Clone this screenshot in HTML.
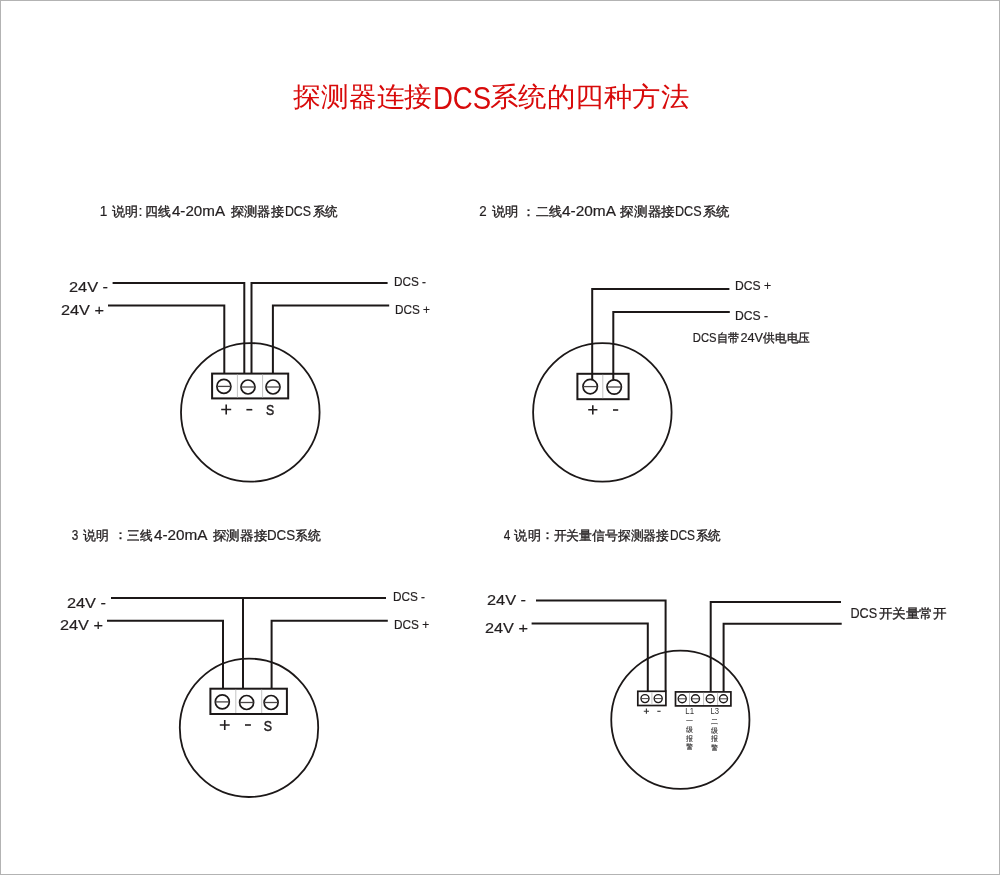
<!DOCTYPE html>
<html><head><meta charset="utf-8">
<style>
html,body{margin:0;padding:0;background:#fff;}
svg{display:block;will-change:transform;}
text{font-family:"Liberation Sans",sans-serif;fill:#231f20;}
.w{fill:none;stroke:#1c1818;stroke-width:2;stroke-linejoin:miter;stroke-linecap:butt;}
.c{fill:none;stroke:#1c1818;stroke-width:1.8;}
.bx{fill:#fff;stroke:#1c1818;stroke-width:2;}
.dv{stroke:#c4c4c4;stroke-width:1;}
.sc{fill:#fff;stroke:#1c1818;stroke-width:1.7;}
.pm{fill:none;stroke:#231f20;stroke-width:1.6;}
.sl{stroke:#4a4646;stroke-width:1.3;}
</style></head>
<body>
<svg width="1000" height="875" viewBox="0 0 1000 875">

<rect x="0.5" y="0.5" width="999" height="874" fill="#fff" stroke="#b3b3b3" stroke-width="1"/>
<circle class="c" cx="250.3" cy="412.35" r="69.3"/>
<path class="w" d="M112.6,283 H244.3 V373"/>
<path class="w" d="M387.6,283 H251.5 V373"/>
<path class="w" d="M108,305.6 H224.3 V373"/>
<path class="w" d="M389.2,305.6 H272.9 V373"/>
<rect class="bx" x="212.1" y="373.6" width="76.1" height="24.8"/>
<line class="dv" x1="237.4" y1="374.6" x2="237.4" y2="397.4"/>
<line class="dv" x1="262.6" y1="374.6" x2="262.6" y2="397.4"/>
<circle class="sc" cx="223.9" cy="386.4" r="7"/><line class="sl" x1="216.9" y1="386.4" x2="230.9" y2="386.4"/>
<circle class="sc" cx="248" cy="387" r="7"/><line class="sl" x1="241" y1="387" x2="255" y2="387"/>
<circle class="sc" cx="273" cy="387" r="7"/><line class="sl" x1="266" y1="387" x2="280" y2="387"/>
<path class="pm" d="M221.2,409.5 H231.2 M226.2,404.6 V414.5"/>
<path class="pm" d="M246.4,409.7 H252.3"/>
<circle class="c" cx="602.35" cy="412.35" r="69.25"/>
<rect class="bx" x="577.4" y="373.8" width="51.2" height="25.4"/>
<line class="dv" x1="602.8" y1="374.8" x2="602.8" y2="398.2"/>
<circle class="sc" cx="590.2" cy="386.6" r="7.2"/><line class="sl" x1="583" y1="386.6" x2="597.4" y2="386.6"/>
<circle class="sc" cx="614.2" cy="387" r="7.2"/><line class="sl" x1="607" y1="387" x2="621.4" y2="387"/>
<path class="w" d="M729.4,289 H592.2 V379.4"/>
<path class="w" d="M729.8,312 H613.3 V379.8"/>
<path class="pm" d="M588.2,409.8 H597.4 M592.8,405.2 V414.4"/>
<path class="pm" d="M613,410 H618.2"/>
<circle class="c" cx="249" cy="727.8" r="69.2"/>
<path class="w" d="M111,598 H386"/>
<path class="w" d="M243,598 V689"/>
<path class="w" d="M107,620.8 H223 V689"/>
<path class="w" d="M387.8,620.8 H271.6 V689"/>
<rect class="bx" x="210.4" y="688.7" width="76.5" height="25.3"/>
<line class="dv" x1="235.8" y1="689.7" x2="235.8" y2="713"/>
<line class="dv" x1="261.7" y1="689.7" x2="261.7" y2="713"/>
<circle class="sc" cx="222.3" cy="701.9" r="7"/><line class="sl" x1="215.3" y1="701.9" x2="229.3" y2="701.9"/>
<circle class="sc" cx="246.6" cy="702.5" r="7"/><line class="sl" x1="239.6" y1="702.5" x2="253.6" y2="702.5"/>
<circle class="sc" cx="271.1" cy="702.5" r="7"/><line class="sl" x1="264.1" y1="702.5" x2="278.1" y2="702.5"/>
<path class="pm" d="M219.8,725 H229.7 M224.75,720 V730"/>
<path class="pm" d="M245,725 H250.9"/>
<circle class="c" cx="680.35" cy="719.75" r="69.1"/>
<path class="w" d="M536,600.6 H665.6 V691.3"/>
<path class="w" d="M531.6,623.5 H647.8 V691.3"/>
<path class="w" d="M841,602 H710.7 V691.9"/>
<path class="w" d="M841.7,623.7 H723.6 V691.9"/>
<rect class="bx" style="stroke-width:1.7" x="637.8" y="691.3" width="28.1" height="14.2"/>
<line class="dv" x1="651.9" y1="692.2" x2="651.9" y2="704.6"/>
<circle class="sc" style="stroke-width:1.4" cx="645" cy="698.6" r="4"/><line class="sl" style="stroke-width:1" x1="641" y1="698.6" x2="649" y2="698.6"/>
<circle class="sc" style="stroke-width:1.4" cx="658.2" cy="698.6" r="4"/><line class="sl" style="stroke-width:1" x1="654.2" y1="698.6" x2="662.2" y2="698.6"/>
<rect class="bx" style="stroke-width:1.7" x="675.5" y="691.9" width="55.4" height="14"/>
<line class="dv" x1="689.5" y1="692.8" x2="689.5" y2="705"/>
<line class="dv" x1="703.6" y1="692.8" x2="703.6" y2="705"/>
<line class="dv" x1="717.6" y1="692.8" x2="717.6" y2="705"/>
<circle class="sc" style="stroke-width:1.4" cx="682.2" cy="698.8" r="4"/><line class="sl" style="stroke-width:1" x1="678.2" y1="698.8" x2="686.2" y2="698.8"/>
<circle class="sc" style="stroke-width:1.4" cx="695.5" cy="698.8" r="4"/><line class="sl" style="stroke-width:1" x1="691.5" y1="698.8" x2="699.5" y2="698.8"/>
<circle class="sc" style="stroke-width:1.4" cx="710.2" cy="698.8" r="4"/><line class="sl" style="stroke-width:1" x1="706.2" y1="698.8" x2="714.2" y2="698.8"/>
<circle class="sc" style="stroke-width:1.4" cx="723.5" cy="698.8" r="4"/><line class="sl" style="stroke-width:1" x1="719.5" y1="698.8" x2="727.5" y2="698.8"/>
<path class="pm" style="stroke-width:1.1;stroke:#333" d="M643.8,711.2 H649 M646.4,708.5 V713.8"/>
<path class="pm" style="stroke-width:1.1;stroke:#333" d="M657.3,711.3 H660.6"/>

<text x="293.49" y="105.80" font-size="27.00" style="fill:#d80a0a;" textLength="138.52" lengthAdjust="spacingAndGlyphs">探测器连接</text>
<text x="432.88" y="108.65" font-size="30.90" style="fill:#d80a0a;" textLength="58.17" lengthAdjust="spacingAndGlyphs">DCS</text>
<text x="489.98" y="106.30" font-size="27.00" style="fill:#d80a0a;" textLength="199.05" lengthAdjust="spacingAndGlyphs">系统的四种方法</text>
<text x="99.82" y="215.80" font-size="14.20" style="fill:#231f20;stroke:#231f20;stroke-width:0.2;" textLength="7.62" lengthAdjust="spacingAndGlyphs">1</text>
<text x="111.95" y="215.60" font-size="13.00" style="fill:#231f20;stroke:#231f20;stroke-width:0.35;" textLength="26.15" lengthAdjust="spacingAndGlyphs">说明</text>
<text x="138.50" y="216.05" font-size="14.20" style="fill:#231f20;stroke:#231f20;stroke-width:0.2;">:</text>
<text x="145.41" y="215.60" font-size="13.00" style="fill:#231f20;stroke:#231f20;stroke-width:0.35;" textLength="25.67" lengthAdjust="spacingAndGlyphs">四线</text>
<text x="171.95" y="215.70" font-size="14.20" style="fill:#231f20;stroke:#231f20;stroke-width:0.2;" textLength="53.08" lengthAdjust="spacingAndGlyphs">4-20mA</text>
<text x="230.98" y="215.80" font-size="13.00" style="fill:#231f20;stroke:#231f20;stroke-width:0.35;" textLength="53.02" lengthAdjust="spacingAndGlyphs">探测器接</text>
<text x="284.94" y="215.60" font-size="14.20" style="fill:#231f20;stroke:#231f20;stroke-width:0.2;" textLength="26.11" lengthAdjust="spacingAndGlyphs">DCS</text>
<text x="312.95" y="215.80" font-size="13.00" style="fill:#231f20;stroke:#231f20;stroke-width:0.35;" textLength="25.05" lengthAdjust="spacingAndGlyphs">系统</text>
<text x="479.23" y="215.85" font-size="14.20" style="fill:#231f20;stroke:#231f20;stroke-width:0.2;" textLength="7.41" lengthAdjust="spacingAndGlyphs">2</text>
<text x="491.96" y="215.80" font-size="13.00" style="fill:#231f20;stroke:#231f20;stroke-width:0.35;" textLength="26.71" lengthAdjust="spacingAndGlyphs">说明</text>
<text x="521.50" y="215.55" font-size="13.00" style="fill:#231f20;stroke:#231f20;stroke-width:0.35;">：</text>
<text x="536.00" y="215.80" font-size="13.00" style="fill:#231f20;stroke:#231f20;stroke-width:0.35;" textLength="26.00" lengthAdjust="spacingAndGlyphs">二线</text>
<text x="561.99" y="215.75" font-size="14.20" style="fill:#231f20;stroke:#231f20;stroke-width:0.2;" textLength="54.02" lengthAdjust="spacingAndGlyphs">4-20mA</text>
<text x="620.48" y="215.80" font-size="13.00" style="fill:#231f20;stroke:#231f20;stroke-width:0.35;" textLength="54.54" lengthAdjust="spacingAndGlyphs">探测器接</text>
<text x="674.96" y="215.75" font-size="14.20" style="fill:#231f20;stroke:#231f20;stroke-width:0.2;" textLength="26.60" lengthAdjust="spacingAndGlyphs">DCS</text>
<text x="702.98" y="215.80" font-size="13.00" style="fill:#231f20;stroke:#231f20;stroke-width:0.35;" textLength="26.64" lengthAdjust="spacingAndGlyphs">系统</text>
<text x="71.70" y="539.85" font-size="14.20" style="fill:#231f20;stroke:#231f20;stroke-width:0.2;" textLength="6.53" lengthAdjust="spacingAndGlyphs">3</text>
<text x="83.44" y="539.65" font-size="13.00" style="fill:#231f20;stroke:#231f20;stroke-width:0.35;" textLength="25.76" lengthAdjust="spacingAndGlyphs">说明</text>
<text x="114.00" y="539.45" font-size="13.00" style="fill:#231f20;stroke:#231f20;stroke-width:0.35;">：</text>
<text x="127.47" y="539.65" font-size="13.00" style="fill:#231f20;stroke:#231f20;stroke-width:0.35;" textLength="25.20" lengthAdjust="spacingAndGlyphs">三线</text>
<text x="153.96" y="539.85" font-size="14.20" style="fill:#231f20;stroke:#231f20;stroke-width:0.2;" textLength="53.55" lengthAdjust="spacingAndGlyphs">4-20mA</text>
<text x="212.92" y="539.65" font-size="13.00" style="fill:#231f20;stroke:#231f20;stroke-width:0.35;" textLength="54.20" lengthAdjust="spacingAndGlyphs">探测器接</text>
<text x="266.94" y="539.85" font-size="14.20" style="fill:#231f20;stroke:#231f20;stroke-width:0.2;" textLength="28.15" lengthAdjust="spacingAndGlyphs">DCS</text>
<text x="295.41" y="539.65" font-size="13.00" style="fill:#231f20;stroke:#231f20;stroke-width:0.35;" textLength="25.75" lengthAdjust="spacingAndGlyphs">系统</text>
<text x="503.76" y="539.85" font-size="14.20" style="fill:#231f20;stroke:#231f20;stroke-width:0.2;" textLength="6.58" lengthAdjust="spacingAndGlyphs">4</text>
<text x="514.39" y="539.65" font-size="13.00" style="fill:#231f20;stroke:#231f20;stroke-width:0.35;" textLength="26.30" lengthAdjust="spacingAndGlyphs">说明</text>
<text x="540.50" y="539.45" font-size="13.00" style="fill:#231f20;stroke:#231f20;stroke-width:0.35;">：</text>
<text x="553.50" y="539.65" font-size="13.00" style="fill:#231f20;stroke:#231f20;stroke-width:0.35;" textLength="115.51" lengthAdjust="spacingAndGlyphs">开关量信号探测器接</text>
<text x="669.92" y="539.85" font-size="14.20" style="fill:#231f20;stroke:#231f20;stroke-width:0.2;" textLength="25.12" lengthAdjust="spacingAndGlyphs">DCS</text>
<text x="695.90" y="539.65" font-size="13.00" style="fill:#231f20;stroke:#231f20;stroke-width:0.35;" textLength="25.17" lengthAdjust="spacingAndGlyphs">系统</text>
<text x="68.96" y="292.00" font-size="15.50" style="fill:#231f20;stroke:#231f20;stroke-width:0.2;" textLength="39.11" lengthAdjust="spacingAndGlyphs">24V -</text>
<text x="60.97" y="314.50" font-size="15.50" style="fill:#231f20;stroke:#231f20;stroke-width:0.2;" textLength="43.08" lengthAdjust="spacingAndGlyphs">24V +</text>
<text x="393.93" y="286.00" font-size="12.80" style="fill:#231f20;stroke:#231f20;stroke-width:0.2;" textLength="32.11" lengthAdjust="spacingAndGlyphs">DCS -</text>
<text x="394.94" y="313.90" font-size="12.80" style="fill:#231f20;stroke:#231f20;stroke-width:0.2;" textLength="35.07" lengthAdjust="spacingAndGlyphs">DCS +</text>
<text x="265.98" y="415.35" font-size="14.80" style="fill:#231f20;stroke:#231f20;stroke-width:0.5" textLength="8.17" lengthAdjust="spacingAndGlyphs">S</text>
<text x="734.96" y="290.40" font-size="12.80" style="fill:#231f20;stroke:#231f20;stroke-width:0.2;" textLength="36.10" lengthAdjust="spacingAndGlyphs">DCS +</text>
<text x="734.96" y="320.10" font-size="12.80" style="fill:#231f20;stroke:#231f20;stroke-width:0.2;" textLength="33.11" lengthAdjust="spacingAndGlyphs">DCS -</text>
<text x="692.86" y="342.10" font-size="12.20" style="fill:#231f20;stroke:#231f20;stroke-width:0.2;" textLength="23.77" lengthAdjust="spacingAndGlyphs">DCS</text>
<text x="716.88" y="341.95" font-size="12.00" style="fill:#231f20;stroke:#231f20;stroke-width:0.35;" textLength="22.29" lengthAdjust="spacingAndGlyphs">自带</text>
<text x="740.43" y="342.10" font-size="12.20" style="fill:#231f20;stroke:#231f20;stroke-width:0.2;" textLength="22.59" lengthAdjust="spacingAndGlyphs">24V</text>
<text x="763.48" y="341.95" font-size="12.00" style="fill:#231f20;stroke:#231f20;stroke-width:0.35;" textLength="46.65" lengthAdjust="spacingAndGlyphs">供电电压</text>
<text x="66.95" y="607.80" font-size="15.50" style="fill:#231f20;stroke:#231f20;stroke-width:0.2;" textLength="39.08" lengthAdjust="spacingAndGlyphs">24V -</text>
<text x="59.97" y="629.80" font-size="15.50" style="fill:#231f20;stroke:#231f20;stroke-width:0.2;" textLength="43.05" lengthAdjust="spacingAndGlyphs">24V +</text>
<text x="392.93" y="601.40" font-size="12.80" style="fill:#231f20;stroke:#231f20;stroke-width:0.2;" textLength="32.14" lengthAdjust="spacingAndGlyphs">DCS -</text>
<text x="393.93" y="629.30" font-size="12.80" style="fill:#231f20;stroke:#231f20;stroke-width:0.2;" textLength="35.12" lengthAdjust="spacingAndGlyphs">DCS +</text>
<text x="263.74" y="730.70" font-size="14.80" style="fill:#231f20;stroke:#231f20;stroke-width:0.5" textLength="8.26" lengthAdjust="spacingAndGlyphs">S</text>
<text x="486.95" y="604.60" font-size="15.50" style="fill:#231f20;stroke:#231f20;stroke-width:0.2;" textLength="39.13" lengthAdjust="spacingAndGlyphs">24V -</text>
<text x="484.98" y="632.60" font-size="15.50" style="fill:#231f20;stroke:#231f20;stroke-width:0.2;" textLength="43.02" lengthAdjust="spacingAndGlyphs">24V +</text>
<text x="850.44" y="617.70" font-size="14.50" style="fill:#231f20;stroke:#231f20;stroke-width:0.2;" textLength="26.66" lengthAdjust="spacingAndGlyphs">DCS</text>
<text x="878.50" y="617.60" font-size="13.00" style="fill:#231f20;stroke:#231f20;stroke-width:0.35;" textLength="68.04" lengthAdjust="spacingAndGlyphs">开关量常开</text>
<text x="685.35" y="714.30" font-size="9.00" style="fill:#333;" textLength="8.71" lengthAdjust="spacingAndGlyphs">L1</text>
<text x="710.43" y="714.45" font-size="9.00" style="fill:#333;" textLength="8.57" lengthAdjust="spacingAndGlyphs">L3</text>
<g font-size="7" text-anchor="middle" style="fill:#4a4a4a;stroke:#4a4a4a;stroke-width:0.15">
<text x="689.5" y="722.6">一</text><text x="689.5" y="731.7">级</text><text x="689.5" y="740.5">报</text><text x="689.5" y="748.7">警</text>
<text x="714.6" y="723.5">二</text><text x="714.6" y="733.0">级</text><text x="714.6" y="741.1">报</text><text x="714.6" y="749.6">警</text>
</g>

</svg>
</body></html>
